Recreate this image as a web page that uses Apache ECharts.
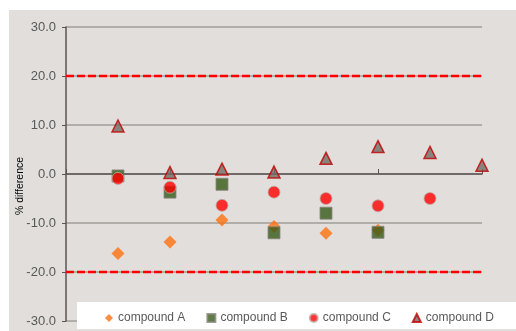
<!DOCTYPE html>
<html>
<head>
<meta charset="utf-8">
<script src="https://cdn.jsdelivr.net/npm/echarts@6/dist/echarts.min.js"></script>
<style>
  html, body { margin: 0; padding: 0; background: #fff; }
  #chart { position: absolute; left: 0; top: 0; width: 516px; height: 331px; }
</style>
</head>
<body>
<div id="chart"></div>
<script>
// x positions of the samples
const samples = [1, 2, 3, 4, 5, 6, 7, 8];
// % difference per compound (null = no point)
const compoundA = [-16.2, -13.9, -9.4, -10.7, -12.1, -11.5, null, null];
const compoundB = [-0.4, -3.7, -2.1, -12.0, -8.0, -11.9, null, null];
const compoundC = [-0.9, -2.7, -6.4, -3.7, -5.0, -6.5, -5.0, null];
const compoundD = [9.8, 0.3, 1.0, 0.4, 3.2, 5.6, 4.4, 1.8];
// acceptance limits
const limits = [20, -20];
const yTicks = [-30, -20, -10, 0, 10, 20, 30];

const font = "Liberation Sans, Arial, sans-serif";
const textGrey = "#595959";

function pairs(vals) {
  return samples.map((x, i) => vals[i] == null ? null : [x, vals[i]]).filter(Boolean);
}

const chart = echarts.init(document.getElementById("chart"));

const option = {
  animation: false,
  backgroundColor: "#fff",
  textStyle: { fontFamily: font },
  graphic: [
    // grey chart area
    { type: "rect", z: -10, shape: { x: 9, y: 10, width: 507, height: 321 }, style: { fill: "#e1dedb" } },
    // white legend box
    { type: "rect", z: 1, shape: { x: 77, y: 302, width: 439, height: 27 }, style: { fill: "#fff" } },
    {
      type: "text", z: 5, x: 20, y: 186, rotation: Math.PI / 2,
      style: { text: "% difference", fill: "#000", font: "10.5px " + font, textAlign: "center", textVerticalAlign: "middle" }
    }
  ],
  grid: { left: 66, right: 34, top: 27, bottom: 10 },
  legend: {
    left: 100, top: 307, z: 10,
    itemWidth: 8, itemHeight: 8, itemGap: 21,
    textStyle: { color: textGrey, fontSize: 12, fontFamily: font },
    data: ["compound A", "compound B", "compound C", "compound D"]
  },
  xAxis: {
    type: "value", min: 0, max: 8, interval: 2,
    axisLine: { onZero: true, lineStyle: { color: "#5a5450", width: 1.5 } },
    axisTick: { show: true, inside: true, length: 5, lineStyle: { color: "#5a5450" } },
    axisLabel: { show: false },
    splitLine: { show: false }
  },
  yAxis: {
    type: "value", min: yTicks[0], max: yTicks[yTicks.length - 1], interval: 10,
    axisLine: { show: true, lineStyle: { color: "#5a5450", width: 1.5 } },
    axisTick: { show: true, length: 4, lineStyle: { color: "#5a5450" } },
    axisLabel: { color: textGrey, fontSize: 13, margin: 10, formatter: v => v.toFixed(1) },
    splitLine: { lineStyle: { color: "#a19d99", width: 1.5 } }
  },
  series: [
    {
      name: "limit+", type: "line", data: [[0, limits[0]], [8, limits[0]]], symbol: "none",
      lineStyle: { color: "#ff0000", width: 2.5, type: [8, 3] }, silent: true, z: 1
    },
    {
      name: "limit-", type: "line", data: [[0, limits[1]], [8, limits[1]]], symbol: "none",
      lineStyle: { color: "#ff0000", width: 2.5, type: [8, 3] }, silent: true, z: 1
    },
    {
      name: "compound A", type: "scatter", data: pairs(compoundA),
      symbol: "diamond", symbolSize: 13,
      itemStyle: { color: "#ff7010" }, z: 3
    },
    {
      name: "compound B", type: "scatter", data: pairs(compoundB),
      symbol: "rect", symbolSize: 12,
      itemStyle: { color: "#375a18", borderColor: "#8a8480", borderWidth: 1 }, z: 4
    },
    {
      name: "compound C", type: "scatter", data: pairs(compoundC),
      symbol: "circle", symbolSize: 12,
      itemStyle: { color: "#ff0000", borderColor: "#c0aaa6", borderWidth: 1 }, z: 5
    },
    {
      name: "compound D", type: "scatter", data: pairs(compoundD),
      symbol: "triangle", symbolSize: 12,
      itemStyle: { color: "#756a64", borderColor: "#c00000", borderWidth: 1.5 }, z: 6
    }
  ]
};

chart.setOption(option);
</script>
</body>
</html>
